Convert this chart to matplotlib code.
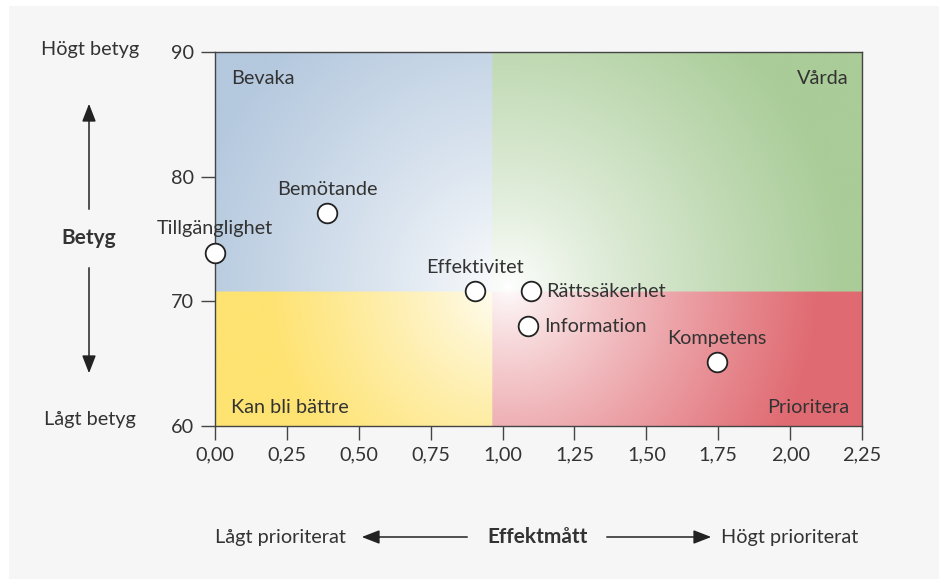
import numpy as np
import matplotlib
matplotlib.use("Agg")
import matplotlib.pyplot as plt
from matplotlib.patches import Rectangle, FancyArrowPatch

plt.rcParams['font.family'] = ['Lato', 'DejaVu Sans']

# data
namn = ["Tillgänglighet", "Bemötande", "Effektivitet", "Rättssäkerhet", "Information", "Kompetens"]
effekt = [0.0, 0.39, 0.905, 1.10, 1.09, 1.745]
betyg = [73.9, 77.1, 70.8, 70.8, 68.0, 65.1]
xticks = [0, 0.25, 0.5, 0.75, 1.0, 1.25, 1.5, 1.75, 2.0, 2.25]
yticks = [60, 70, 80, 90]
gransx = 0.965
gransy = 70.8

# label placement: "hoger" = right of point, else above
placering = {"Rättssäkerhet": "hoger", "Information": "hoger"}

textfarg = "#333333"
fs = 14.3
W, H = 942, 579
fig = plt.figure(figsize=(W / 100, H / 100), dpi=100, facecolor="white")
fig.patches.append(Rectangle((9 / W, 0), 930 / W, 1 - 6 / H, transform=fig.transFigure,
                             facecolor="#f6f6f6", edgecolor="none", zorder=-10))

ax_l, ax_b, ax_w, ax_h = 215 / W, 1 - 425.7 / H, 647 / W, 373.4 / H
ax = fig.add_axes([ax_l, ax_b, ax_w, ax_h])
ax.set_xlim(0, 2.25)
ax.set_ylim(60, 90)

# bakgrund med gradient per kvadrant
nx, ny = 700, 420
xs = np.linspace(0, 2.25, nx)
ys = np.linspace(60, 90, ny)
X, Y = np.meshgrid(xs, ys)
pxx = ax_w * W / 2.25
pxy = ax_h * H / 30
cx, cy = 1.02, 71.2
d = np.hypot((X - cx) * pxx, (Y - cy) * pxy)

bla = np.array([180, 200, 222]) / 255
gron = np.array([169, 204, 152]) / 255
rod = np.array([224, 106, 114]) / 255
gul = np.array([254, 227, 114]) / 255

farg = np.zeros((ny, nx, 3))
radie = np.zeros((ny, nx))
upp = Y >= gransy
hog = X >= gransx
for mask, c, r in [(upp & ~hog, bla, 330), (upp & hog, gron, 340),
                   (~upp & hog, rod, 310), (~upp & ~hog, gul, 240)]:
    farg[mask] = c
    radie[mask] = r
t = np.clip(d / radie, 0, 1) ** 0.8
bild = 1 - t[..., None] * (1 - farg)
ax.imshow(bild, extent=[0, 2.25, 60, 90], origin="lower", aspect="auto",
          interpolation="bilinear", zorder=0)

for s in ax.spines.values():
    s.set_color("#444444")
    s.set_linewidth(1.0)

ax.set_xticks(xticks)
ax.set_xticklabels([f"{v:.2f}".replace(".", ",") for v in xticks])
ax.set_yticks(yticks)
ax.tick_params(direction="out", length=10, width=1, color="#444444",
               labelsize=fs, labelcolor=textfarg, pad=5)

ax.scatter(effekt, betyg, s=200, facecolor="white", edgecolor="#222222",
           linewidth=1.3, zorder=5, clip_on=False)

for n, x, y in zip(namn, effekt, betyg):
    if placering.get(n) == "hoger":
        ax.annotate(n, (x, y), xytext=(11, 0), textcoords="offset points",
                    ha="left", va="center", fontsize=fs, color=textfarg, zorder=6)
    else:
        ax.annotate(n, (x, y), xytext=(0, 11), textcoords="offset points",
                    ha="center", va="bottom", fontsize=fs, color=textfarg, zorder=6)

# kvadrantnamn
ax.text(0.025, 0.93, "Bevaka", transform=ax.transAxes, ha="left", va="center", fontsize=fs, color=textfarg)
ax.text(0.98, 0.93, "Vårda", transform=ax.transAxes, ha="right", va="center", fontsize=fs, color=textfarg)
ax.text(0.025, 0.05, "Kan bli bättre", transform=ax.transAxes, ha="left", va="center", fontsize=fs, color=textfarg)
ax.text(0.98, 0.05, "Prioritera", transform=ax.transAxes, ha="right", va="center", fontsize=fs, color=textfarg)

# axeltexter utanför
def fx(p):
    return p / W

def fy(p):
    return 1 - p / H

fig.text(fx(90), fy(50), "Högt betyg", ha="center", va="center", fontsize=fs, color=textfarg)
fig.text(fx(90), fy(420), "Lågt betyg", ha="center", va="center", fontsize=fs, color=textfarg)
fig.text(fx(89), fy(238), "Betyg", ha="center", va="center", fontsize=15, fontweight="bold", color=textfarg)
pil = dict(arrowstyle="-|>,head_length=0.9,head_width=0.35", color="#222222", lw=1.1)
fig.add_artist(FancyArrowPatch((fx(89), fy(212)), (fx(89), fy(101)),
               transform=fig.transFigure, mutation_scale=12, **pil))
fig.add_artist(FancyArrowPatch((fx(89), fy(265)), (fx(89), fy(376)),
               transform=fig.transFigure, mutation_scale=12, **pil))

fig.text(fx(538), fy(537), "Effektmått", ha="center", va="center", fontsize=15, fontweight="bold", color=textfarg)
fig.text(fx(280), fy(537), "Lågt prioriterat", ha="center", va="center", fontsize=fs, color=textfarg)
fig.text(fx(790), fy(537), "Högt prioriterat", ha="center", va="center", fontsize=fs, color=textfarg)
fig.add_artist(FancyArrowPatch((fx(470), fy(537)), (fx(359), fy(537)),
               transform=fig.transFigure, mutation_scale=12, **pil))
fig.add_artist(FancyArrowPatch((fx(604), fy(537)), (fx(714), fy(537)),
               transform=fig.transFigure, mutation_scale=12, **pil))

fig.savefig("out.png", dpi=100, facecolor=fig.get_facecolor())
